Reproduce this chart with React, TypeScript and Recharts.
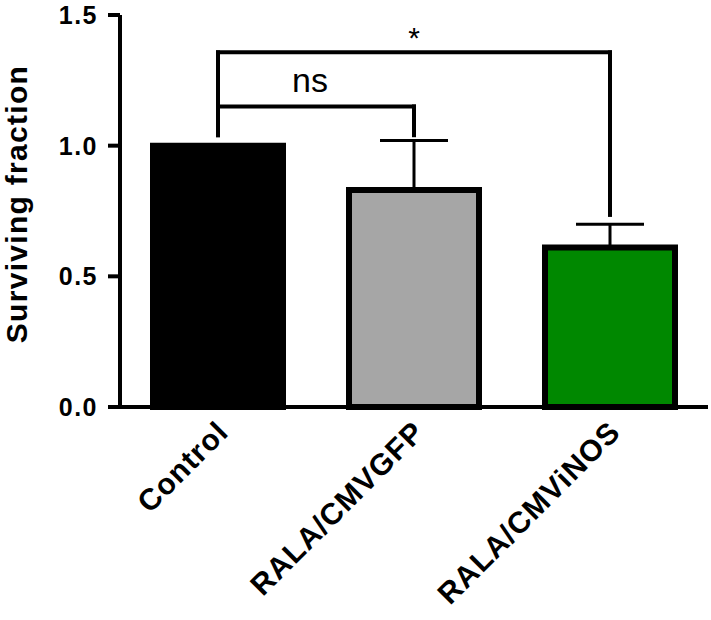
import React from 'react';
import { BarChart, Bar, XAxis, YAxis, ErrorBar, Cell, ReferenceLine, Label } from 'recharts';

const categories = ['Control', 'RALA/CMVGFP', 'RALA/CMViNOS'];
const means = [1.0, 0.83, 0.61];
const upperErrors = [0, 0.19, 0.089];
const barColors = ['#000000', '#a6a6a6', '#008800'];
const yTicks = [0, 0.5, 1.0, 1.5];
const yLabel = 'Surviving fraction';

const bracketFrom = ['Control', 'Control'];
const bracketTo = ['RALA/CMVGFP', 'RALA/CMViNOS'];
const bracketTop = [1.15, 1.357];
const bracketFromEnd = [1.04, 1.04];
const bracketToEnd = [1.04, 0.735];
const bracketText = ['ns', '*'];

const data = categories.map((name, i) => ({ name, value: means[i], err: [0, upperErrors[i]] }));

const FONT = '"Liberation Sans", Arial, Helvetica, sans-serif';

const XTick = (props: any) => {
  const { x, y, payload } = props;
  const ax = x + 12;
  const ay = y + 27;
  return (
    <text
      x={ax}
      y={ay}
      transform={`rotate(-45, ${ax}, ${ay})`}
      textAnchor="end"
      fontSize={30}
      fontWeight="bold"
      letterSpacing={1}
      fontFamily={FONT}
      fill="#000"
    >
      {payload.value}
    </text>
  );
};

const YTitle = (props: any) => {
  const vb = props.viewBox || { x: 0, y: 15, width: 120, height: 392 };
  const cx = 27;
  const cy = vb.y + vb.height / 2 - 7;
  return (
    <text
      x={cx}
      y={cy}
      transform={`rotate(-90, ${cx}, ${cy})`}
      textAnchor="middle"
      fontSize={30}
      fontWeight="bold"
      letterSpacing={1.3}
      fontFamily={FONT}
      fill="#000"
    >
      {yLabel}
    </text>
  );
};

const lineStyle = { stroke: '#000', strokeWidth: 4 };

export default function App() {
  const brackets = bracketText.map((t, i) => {
    const from = bracketFrom[i];
    const to = bracketTo[i];
    const top = bracketTop[i];
    const isStar = t === '*';
    return (
      <React.Fragment key={i}>
        <ReferenceLine
          segment={[{ x: from, y: bracketFromEnd[i] }, { x: from, y: top }]}
          stroke="#000"
          strokeWidth={4}
          strokeLinecap="square"
          ifOverflow="visible"
        />
        <ReferenceLine
          segment={[{ x: from, y: top }, { x: to, y: top }]}
          stroke="#000"
          strokeWidth={4}
          strokeLinecap="square"
          ifOverflow="visible"
        >
          <Label
            value={t}
            position="top"
            offset={isStar ? 4 : 14}
            fontSize={isStar ? 30 : 34}
            fontFamily={FONT}
            fill="#000"
            dx={isStar ? 0 : -6}
          />
        </ReferenceLine>
        <ReferenceLine
          segment={[{ x: to, y: top }, { x: to, y: bracketToEnd[i] }]}
          stroke="#000"
          strokeWidth={4}
          strokeLinecap="square"
          ifOverflow="visible"
        />
      </React.Fragment>
    );
  });

  return (
    <div style={{ position: 'absolute', left: 0, top: 0, background: '#fff' }}>
      <BarChart
        width={711}
        height={620}
        data={data}
        margin={{ top: 15, right: 3, left: 0, bottom: 0 }}
      >
        <XAxis
          dataKey="name"
          height={213}
          tickLine={false}
          axisLine={lineStyle}
          tick={<XTick />}
          tickSize={0}
          tickMargin={0}
          interval={0}
        />
        <YAxis
          width={120}
          domain={[0, 1.5]}
          ticks={yTicks}
          tickFormatter={(v: number) => v.toFixed(1)}
          axisLine={lineStyle}
          tickLine={lineStyle}
          tickSize={12}
          tickMargin={10}
          tick={{ fontSize: 25, fontWeight: 'bold', fill: '#000', fontFamily: FONT, letterSpacing: 1.5 }}
          label={<Label content={<YTitle />} />}
        />
        <Bar dataKey="value" barSize={130} stroke="#000" strokeWidth={6} isAnimationActive={false}>
          {data.map((d, i) => (
            <Cell key={d.name} fill={barColors[i]} />
          ))}
          <ErrorBar dataKey="err" direction="y" width={34} stroke="#000" strokeWidth={3} isAnimationActive={false} />
        </Bar>
        {brackets}
      </BarChart>
    </div>
  );
}
